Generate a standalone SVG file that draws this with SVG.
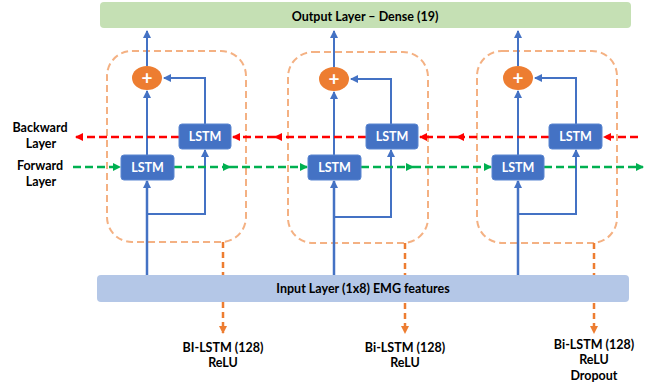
<svg xmlns="http://www.w3.org/2000/svg" width="659" height="387" viewBox="0 0 659 387">
<style>
text{font-family:Lato,"Open Sans","Liberation Sans",sans-serif;font-weight:bold;font-size:12.5px;fill:#000;text-anchor:middle}
.lstm rect{fill:#4472C4;stroke:#5B86D1;stroke-width:1}
.lstm text{fill:#fff;font-size:12.5px}
.cellbox{fill:none;stroke:#F4B183;stroke-width:2;stroke-dasharray:7,4}
.blue{fill:none;stroke:#4472C4;stroke-width:2;marker-end:url(#ab)}
.red{fill:none;stroke:#FF0000;stroke-width:2.5;stroke-dasharray:8,4;marker-end:url(#ar)}
.green{fill:none;stroke:#00B050;stroke-width:2.5;stroke-dasharray:8,4;marker-end:url(#ag)}
.org{fill:none;stroke:#ED7D31;stroke-width:2.5;stroke-dasharray:6,4;marker-end:url(#ao)}
.plus ellipse{fill:#ED7D31}
.plus text{fill:#fff;font-size:19px}
</style>
<defs>
<marker id="ab" markerUnits="userSpaceOnUse" markerWidth="8" markerHeight="8" refX="7" refY="4" orient="auto"><path d="M0,0 L8,4 L0,8 z" fill="#4472C4"/></marker>
<marker id="ar" markerUnits="userSpaceOnUse" markerWidth="8" markerHeight="8" refX="7" refY="4" orient="auto"><path d="M0,0 L8,4 L0,8 z" fill="#FF0000"/></marker>
<marker id="ag" markerUnits="userSpaceOnUse" markerWidth="8" markerHeight="8" refX="7" refY="4" orient="auto"><path d="M0,0 L8,4 L0,8 z" fill="#00B050"/></marker>
<marker id="ao" markerUnits="userSpaceOnUse" markerWidth="8" markerHeight="8" refX="7" refY="4" orient="auto"><path d="M0,0 L8,4 L0,8 z" fill="#ED7D31"/></marker>
</defs>

<g id="cell-boxes">
<rect class="cellbox" x="107" y="51" width="139" height="191" rx="25"/>
<rect class="cellbox" x="288" y="52" width="140" height="191" rx="25"/>
<rect class="cellbox" x="477" y="51" width="140" height="192" rx="25"/>
</g>

<g id="connectors">
<path class="org" d="M223,242 V333"/>
<path class="org" d="M405,243 V333"/>
<path class="org" d="M594,243 V333"/>

<path class="blue" style="stroke-width:2.5" d="M147,275 V181"/>
<path class="blue" d="M147,155 V91"/>
<path class="blue" d="M147,66 V31"/>
<path class="blue" d="M147,214 H205 V150"/>
<path class="blue" d="M205,124 V78 H164"/>

<path class="blue" style="stroke-width:2.5" d="M334,275 V181"/>
<path class="blue" d="M334,155 V92"/>
<path class="blue" d="M334,67 V31"/>
<path class="blue" d="M334,217 H391 V150"/>
<path class="blue" d="M391,124 V79 H351"/>

<path class="blue" style="stroke-width:2.5" d="M518,275 V181"/>
<path class="blue" d="M518,155 V91"/>
<path class="blue" d="M518,66 V31"/>
<path class="blue" d="M518,214 H576 V150"/>
<path class="blue" d="M576,124 V78 H535"/>

<path class="red" d="M638,137 H604"/>
<path class="red" d="M549,137 H457"/>
<path class="red" d="M457,137 H420"/>
<path class="red" d="M366,137 H275"/>
<path class="red" d="M275,137 H233"/>
<path class="red" d="M179,137 H76"/>

<path class="green" d="M73,167 H120"/>
<path class="green" d="M174,167 H230"/>
<path class="green" d="M230,167 H307"/>
<path class="green" d="M361,167 H413"/>
<path class="green" d="M413,167 H491"/>
<path class="green" d="M544,167 H643"/>
</g>

<g id="output-layer">
<rect x="100" y="2" width="531" height="26" rx="4" fill="#C5E0B4"/>
<text x="365" y="21">Output Layer – Dense (19)</text>
</g>

<g id="input-layer">
<rect x="97" y="275" width="532" height="27" rx="4" fill="#B4C7E7"/>
<text x="363" y="293">Input Layer (1x8) EMG features</text>
</g>

<g id="plus1" class="plus"><ellipse cx="147" cy="78" rx="15" ry="12"/><text x="147" y="85">+</text></g>
<g id="plus2" class="plus"><ellipse cx="334" cy="79" rx="15" ry="12"/><text x="334" y="86">+</text></g>
<g id="plus3" class="plus"><ellipse cx="518" cy="78" rx="15" ry="12"/><text x="518" y="85">+</text></g>

<g id="bwd1" class="lstm"><rect x="179" y="124" width="52" height="25" rx="3"/><text x="205" y="141">LSTM</text></g>
<g id="fwd1" class="lstm"><rect x="121" y="155" width="53" height="25" rx="3"/><text x="147.5" y="172">LSTM</text></g>
<g id="bwd2" class="lstm"><rect x="366" y="124" width="52" height="25" rx="3"/><text x="392" y="141">LSTM</text></g>
<g id="fwd2" class="lstm"><rect x="308" y="155" width="53" height="25" rx="3"/><text x="334.5" y="172">LSTM</text></g>
<g id="bwd3" class="lstm"><rect x="549" y="124" width="53" height="25" rx="3"/><text x="575.5" y="141">LSTM</text></g>
<g id="fwd3" class="lstm"><rect x="492" y="155" width="52" height="25" rx="3"/><text x="518" y="172">LSTM</text></g>

<g id="side-labels">
<text x="40" y="132">Backward</text>
<text x="41" y="148">Layer</text>
<text x="40" y="170">Forward</text>
<text x="41" y="186">Layer</text>
</g>

<g id="cell-labels">
<text x="223" y="352">BI-LSTM (128)</text>
<text x="223" y="367">ReLU</text>
<text x="405" y="352">Bi-LSTM (128)</text>
<text x="405" y="367">ReLU</text>
<text x="594" y="349">Bi-LSTM (128)</text>
<text x="594" y="364">ReLU</text>
<text x="594" y="380">Dropout</text>
</g>
</svg>
